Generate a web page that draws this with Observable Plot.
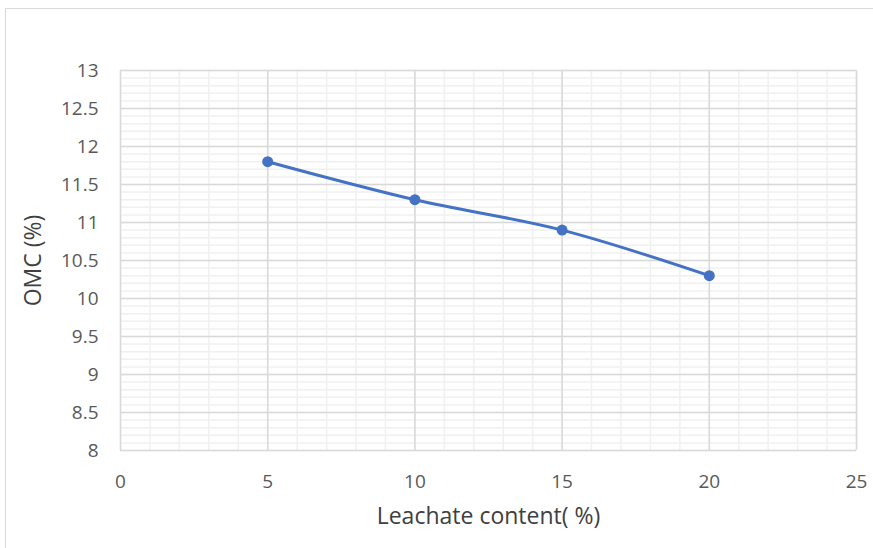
<!DOCTYPE html>
<html>
<head>
<meta charset="utf-8">
<script src="https://cdn.jsdelivr.net/npm/d3@7"></script>
<script src="https://cdn.jsdelivr.net/npm/@observablehq/plot@0.6"></script>
<style>
  html, body { margin: 0; padding: 0; background: #fff; overflow: hidden; }
  #wrap { position: relative; width: 873px; height: 548px; }
  #border { position: absolute; left: 5px; top: 8px; width: 880px; height: 560px; border: 1px solid #d9d9d9; box-sizing: border-box; pointer-events: none; }
  #chart { position: absolute; left: 0; top: 0; }
</style>
</head>
<body>
<div id="wrap"><div id="border"></div><div id="chart"></div></div>
<script>
const leachate = [5, 10, 15, 20];
const omc = [11.8, 11.3, 10.9, 10.3];
const xTicks = [0, 5, 10, 15, 20, 25];
const yTicks = [8, 8.5, 9, 9.5, 10, 10.5, 11, 11.5, 12, 12.5, 13];

const data = leachate.map((x, i) => ({x, y: omc[i]}));
const xMinor = d3.range(0, 25.001, 1);
const yMinor = d3.range(80, 131, 1).map(v => v / 10);

const font = "'Open Sans', 'Noto Sans', sans-serif";
const chart = Plot.plot({
  width: 873,
  height: 548,
  marginLeft: 120,
  marginRight: 17,
  marginTop: 70,
  marginBottom: 98,
  style: { fontFamily: font, fontSize: "19px", color: "#595959", background: "transparent" },
  x: { domain: [0, 25], axis: null },
  y: { domain: [8, 13], axis: null },
  marks: [
    Plot.ruleX(xMinor, { stroke: "#f0f0f0", strokeWidth: 1.5 }),
    Plot.ruleY(yMinor, { stroke: "#f0f0f0", strokeWidth: 1.5 }),
    Plot.ruleX(xTicks, { stroke: "#d9d9d9", strokeWidth: 1.5 }),
    Plot.ruleY(yTicks, { stroke: "#d9d9d9", strokeWidth: 1.5 }),
    Plot.text(xTicks, { x: d => d, y: 8, dy: 31, text: d => String(d), fontSize: 19, fill: "#595959" }),
    Plot.text(yTicks, { x: 0, y: d => d, dx: -22, textAnchor: "end", text: d => String(d), fontSize: 19, fill: "#595959" }),
    Plot.line(data, { x: "x", y: "y", stroke: "#4472C4", strokeWidth: 3, curve: "catmull-rom" }),
    Plot.dot(data, { x: "x", y: "y", fill: "#4472C4", r: 5.5 }),
    Plot.text(["Leachate content( %)"], { frameAnchor: "bottom", dy: 73, text: d => d, fontSize: 23, fill: "#404040" }),
    Plot.text(["OMC (%)"], { frameAnchor: "left", textAnchor: "middle", dx: -87, rotate: -90, text: d => d, fontSize: 23, fill: "#404040" })
  ]
});
document.getElementById("chart").appendChild(chart);
</script>
</body>
</html>
